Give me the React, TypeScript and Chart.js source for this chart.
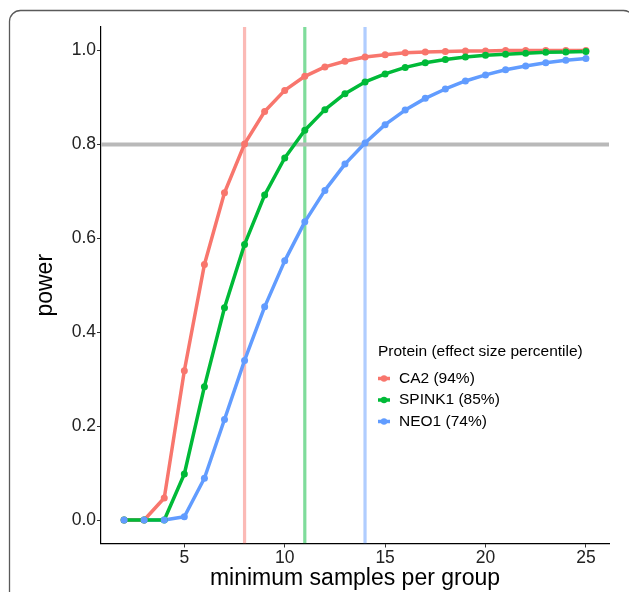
import React, { useEffect, useRef } from "react";
import { Chart, registerables } from "chart.js";

Chart.register(...registerables);

const samples = [2, 3, 4, 5, 6, 7, 8, 9, 10, 11, 12, 13, 14, 15, 16, 17, 18, 19, 20, 21, 22, 23, 24, 25];
const ca2 = [0, 0, 0.047, 0.318, 0.544, 0.697, 0.801, 0.87, 0.915, 0.945, 0.965, 0.977, 0.986, 0.991, 0.995, 0.997, 0.998, 0.999, 0.999, 1.0, 1.0, 1.0, 1.0, 1.0];
const spink1 = [0, 0, 0, 0.098, 0.284, 0.452, 0.587, 0.692, 0.771, 0.83, 0.874, 0.908, 0.933, 0.95, 0.964, 0.974, 0.981, 0.986, 0.99, 0.992, 0.994, 0.996, 0.997, 0.998];
const neo1 = [0, 0, 0, 0.007, 0.089, 0.214, 0.34, 0.454, 0.552, 0.635, 0.702, 0.758, 0.803, 0.842, 0.873, 0.898, 0.918, 0.935, 0.948, 0.959, 0.967, 0.974, 0.979, 0.983];
const seriesNames = ["CA2 (94%)", "SPINK1 (85%)", "NEO1 (74%)"];
const seriesColors = ["#F8766D", "#00BA38", "#619CFF"];
const thresholdSamples = [8, 11, 14];
const thresholdPower = 0.8;
const xTicks = [5, 10, 15, 20, 25];
const yTicks = [0, 0.2, 0.4, 0.6, 0.8, 1.0];
const legendTitle = "Protein (effect size percentile)";

const FONT = "'Liberation Sans', Arial, Helvetica, sans-serif";
const X_MIN = 0.85, X_MAX = 26.15, Y_MIN = -0.05, Y_MAX = 1.05;

function pts(ys: number[]) {
  return samples.map((x, i) => ({ x, y: ys[i] }));
}

function alpha(hex: string, a: number) {
  const r = parseInt(hex.slice(1, 3), 16), g = parseInt(hex.slice(3, 5), 16), b = parseInt(hex.slice(5, 7), 16);
  return `rgba(${r},${g},${b},${a})`;
}

const framePlugin = {
  id: "frame",
  beforeDraw(chart: any) {
    const ctx = chart.ctx;
    ctx.save();
    ctx.fillStyle = "#ffffff";
    ctx.fillRect(0, 0, chart.width, chart.height);
    ctx.strokeStyle = "#5a5a5a";
    ctx.lineWidth = 1.3;
    ctx.beginPath();
    (ctx as any).roundRect(9.5, 10.5, 625, 640, 11);
    ctx.stroke();
    ctx.restore();
  },
};

const legendPlugin = {
  id: "customLegend",
  afterDatasetsDraw(chart: any) {
    const ctx = chart.ctx;
    ctx.save();
    ctx.font = `15.5px ${FONT}`;
    ctx.fillStyle = "#000";
    ctx.textBaseline = "middle";
    ctx.textAlign = "left";
    ctx.fillText(legendTitle, 378, 352);
    const ys = [378.5, 400, 421.5];
    seriesNames.forEach((name, i) => {
      const y = ys[i];
      ctx.strokeStyle = seriesColors[i];
      ctx.lineWidth = 3.5;
      ctx.beginPath();
      ctx.moveTo(378, y);
      ctx.lineTo(390, y);
      ctx.stroke();
      ctx.fillStyle = seriesColors[i];
      ctx.beginPath();
      ctx.arc(384, y, 3.2, 0, Math.PI * 2);
      ctx.fill();
      ctx.fillStyle = "#000";
      ctx.fillText(name, 399, y);
    });
    ctx.restore();
  },
};

export default function App() {
  const ref = useRef<HTMLCanvasElement | null>(null);
  useEffect(() => {
    if (!ref.current) return;
    const data = [ca2, spink1, neo1];
    const pointSets = [2, 1, 0].map((i) => ({
      label: seriesNames[i] + " pts",
      data: pts(data[i]),
      showLine: false,
      pointRadius: 3.5,
      pointHoverRadius: 3.5,
      pointBorderWidth: 0,
      pointBackgroundColor: seriesColors[i],
      borderColor: seriesColors[i],
    }));
    const lineSets = [1, 0, 2].map((i) => ({
      label: seriesNames[i],
      data: pts(data[i]),
      borderColor: seriesColors[i],
      borderWidth: 3.5,
      pointRadius: 0,
      borderCapStyle: "round",
      borderJoinStyle: "round",
      tension: 0,
    }));
    const hline = {
      label: "threshold",
      data: [{ x: X_MIN, y: thresholdPower }, { x: X_MAX, y: thresholdPower }],
      borderColor: "#b9b9b9",
      borderWidth: 4,
      pointRadius: 0,
    };
    const vlines = thresholdSamples.map((v, i) => ({
      label: "v" + i,
      data: [{ x: v, y: Y_MIN }, { x: v, y: Y_MAX }],
      borderColor: alpha(seriesColors[i], 0.5),
      borderWidth: 3.2,
      pointRadius: 0,
    }));
    const chart = new Chart(ref.current, {
      type: "line",
      data: { datasets: [...pointSets, ...lineSets, hline, ...vlines] as any },
      options: {
        animation: false,
        responsive: true,
        maintainAspectRatio: false,
        layout: { padding: { left: 0, top: 27, right: 20, bottom: 0 } },
        plugins: { legend: { display: false }, tooltip: { enabled: false } },
        scales: {
          x: {
            type: "linear",
            min: X_MIN,
            max: X_MAX,
            afterBuildTicks: (s: any) => { s.ticks = xTicks.map((v) => ({ value: v })); },
            afterFit: (s: any) => { s.height = 48.5; },
            grid: { display: true, drawOnChartArea: false, drawTicks: true, tickLength: 4, color: "#333", lineWidth: 1 },
            border: { display: true, color: "#000", width: 1.2 },
            ticks: { font: { family: FONT, size: 17.5 }, color: "#222", padding: 0, maxRotation: 0, callback: (v: any) => String(v) },
            title: { display: true, text: "minimum samples per group", font: { family: FONT, size: 23 }, color: "#000", padding: { top: 0, bottom: 0 } },
          },
          y: {
            type: "linear",
            min: Y_MIN,
            max: Y_MAX,
            afterBuildTicks: (s: any) => { s.ticks = yTicks.map((v) => ({ value: v })); },
            afterFit: (s: any) => { s.width = 101; },
            grid: { display: true, drawOnChartArea: false, drawTicks: true, tickLength: 4, color: "#333", lineWidth: 1 },
            border: { display: true, color: "#000", width: 1.2 },
            ticks: { font: { family: FONT, size: 17.5 }, color: "#222", padding: 1, callback: (v: any) => Number(v).toFixed(1) },
            title: { display: true, text: "power", font: { family: FONT, size: 23 }, color: "#000", padding: { top: 32, bottom: 0 } },
          },
        },
      },
      plugins: [framePlugin, legendPlugin],
    });
    return () => chart.destroy();
  }, []);
  return (
    <div style={{ position: "fixed", left: 0, top: 0, width: 629, height: 592 }}>
      <canvas ref={ref} />
    </div>
  );
}
